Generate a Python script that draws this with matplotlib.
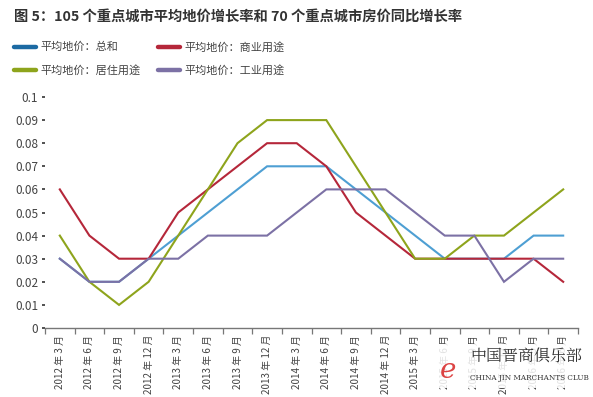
import matplotlib
matplotlib.use("Agg")
import matplotlib.pyplot as plt
from matplotlib.lines import Line2D
from matplotlib.patches import Rectangle

plt.rcParams['font.family'] = ['Noto Sans CJK SC', 'DejaVu Sans']

categories = ["2012 年 3 月", "2012 年 6 月", "2012 年 9 月", "2012 年 12 月",
              "2013 年 3 月", "2013 年 6 月", "2013 年 9 月", "2013 年 12 月",
              "2014 年 3 月", "2014 年 6 月", "2014 年 9 月", "2014 年 12 月",
              "2015 年 3 月", "2015 年 6 月", "2015 年 9 月", "2015 年 12 月",
              "2016 年 3 月", "2016 年 6 月"]

total       = [0.03, 0.02, 0.02, 0.03, 0.04, 0.05, 0.06, 0.07, 0.07, 0.07, 0.06, 0.05,
               0.04, 0.03, 0.03, 0.03, 0.04, 0.04]
commercial  = [0.06, 0.04, 0.03, 0.03, 0.05, 0.06, 0.07, 0.08, 0.08, 0.07, 0.05, 0.04,
               0.03, 0.03, 0.03, 0.03, 0.03, 0.02]
residential = [0.04, 0.02, 0.01, 0.02, 0.04, 0.06, 0.08, 0.09, 0.09, 0.09, 0.07, 0.05,
               0.03, 0.03, 0.04, 0.04, 0.05, 0.06]
industrial  = [0.03, 0.02, 0.02, 0.03, 0.03, 0.04, 0.04, 0.04, 0.05, 0.06, 0.06, 0.06,
               0.05, 0.04, 0.04, 0.02, 0.03, 0.03]

series_names = ["平均地价：总和", "平均地价：商业用途", "平均地价：居住用途", "平均地价：工业用途"]
yticks = [0, 0.01, 0.02, 0.03, 0.04, 0.05, 0.06, 0.07, 0.08, 0.09, 0.1]
ytick_labels = ["0", "0.01", "0.02", "0.03", "0.04", "0.05", "0.06", "0.07", "0.08", "0.09", "0.1"]

line_colors = ["#4e9fd3", "#b5273a", "#8ea41c", "#7c71a5"]
legend_colors = ["#1c6aa3", "#b5273a", "#8ea41c", "#7c71a5"]

W, H = 593, 397
fig = plt.figure(figsize=(W / 100, H / 100), dpi=100)
fig.patch.set_facecolor("white")

ax = fig.add_axes([45 / W, 1 - 328 / H, (578 - 45) / W, (328 - 97) / H])
x = list(range(len(categories)))
for vals, c in zip([total, commercial, residential, industrial], line_colors):
    ax.plot(x, vals, color=c, lw=1.5, solid_joinstyle="miter")

ax.set_xlim(-0.5, len(categories) - 0.5)
ax.set_ylim(0, 0.1)
ax.set_yticks(yticks)
ax.set_yticklabels(ytick_labels, fontsize=8.5, color="#444444")
ax.tick_params(axis="y", length=2, width=1.2, color="#333333", pad=3)

ax.set_xticks(x)
ax.set_xticklabels(categories, rotation=90, fontsize=7.1, color="#444444")
ax.tick_params(axis="x", which="major", length=0, pad=5)
ax.set_xticks([i - 0.5 for i in range(len(categories) + 1)], minor=True)
ax.tick_params(axis="x", which="minor", length=4, width=0.9, color="#777777", direction="out")

for s in ["top", "right", "left"]:
    ax.spines[s].set_visible(False)
ax.spines["bottom"].set_color("#777777")
ax.spines["bottom"].set_linewidth(1.0)

# Title
fig.text(14 / W, 1 - 17 / H, "图 5：105 个重点城市平均地价增长率和 70 个重点城市房价同比增长率",
         fontsize=10.3, color="#333333", va="center", ha="left", fontweight="bold")

# Legend
legend_pos = [(14, 47), (158, 47), (14, 70), (158, 70)]
for (lx, ly), name, c in zip(legend_pos, series_names, legend_colors):
    fig.add_artist(Line2D([lx / W, (lx + 22) / W], [1 - ly / H, 1 - ly / H],
                          color=c, lw=3.2, solid_capstyle="round"))
    fig.text((lx + 26) / W, 1 - ly / H, name, fontsize=8, color="#444444",
             va="center", ha="left")

# Watermark
fig.add_artist(Rectangle((432 / W, 1 - 388 / H), 158 / W, 44 / H, transform=fig.transFigure,
                         facecolor="white", edgecolor="none", alpha=0.85))
fig.text(440 / W, 1 - 370 / H, "e", fontsize=20, color="#d93030", style="italic",
         va="center", ha="left", alpha=0.9, family=["DejaVu Serif"])
fig.text(470 / W, 1 - 356 / H, "中国晋商俱乐部", fontsize=11.5, color="#333333",
         va="center", ha="left", family=["Noto Serif CJK SC", "Noto Sans CJK SC"])
fig.text(470 / W, 1 - 378 / H, "CHINA JIN MARCHANTS CLUB", fontsize=5.2, color="#333333",
         va="center", ha="left", family=["DejaVu Serif"])

fig.savefig("out.png", dpi=100, facecolor="white")
